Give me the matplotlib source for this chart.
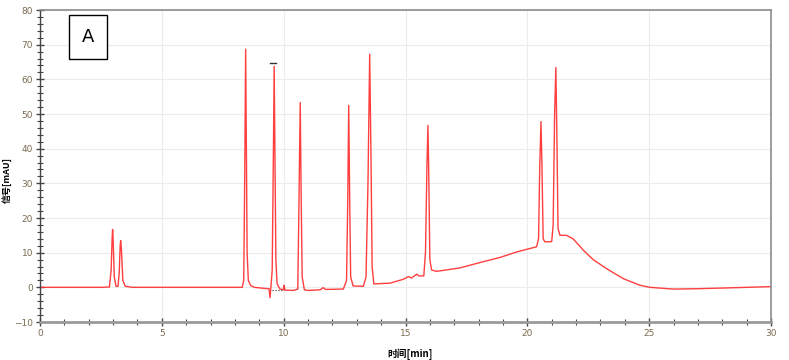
import matplotlib
matplotlib.use("Agg")
import matplotlib.pyplot as plt
from matplotlib.ticker import MultipleLocator
from matplotlib.patches import Rectangle

plt.rcParams['font.family'] = ['DejaVu Sans', 'Noto Sans CJK SC']

# chromatogram points (time [min], signal [mAU])
times = [0.0, 2.5, 2.85, 2.92, 2.96, 2.98, 3.00, 3.05, 3.12, 3.20, 3.25, 3.29, 3.31, 3.34,
         3.40, 3.50, 3.80, 8.30, 8.36, 8.40, 8.44, 8.47, 8.50, 8.55, 8.65, 8.80, 9.20, 9.40,
         9.44, 9.47, 9.53, 9.58, 9.61, 9.64, 9.68, 9.73, 9.85, 10.00, 10.02, 10.05, 10.40,
         10.58, 10.62, 10.68, 10.72, 10.76, 10.85, 11.00, 11.50, 11.62, 11.72, 12.45, 12.58,
         12.63, 12.67, 12.71, 12.75, 12.85, 13.27, 13.38, 13.46, 13.53, 13.58, 13.63, 13.70,
         14.36, 14.90, 15.13, 15.25, 15.46, 15.55, 15.75, 15.82, 15.88, 15.92, 15.95, 16.00,
         16.07, 16.27, 17.23, 18.19, 18.87, 19.56, 20.38, 20.46, 20.51, 20.56, 20.60, 20.65,
         20.72, 21.00, 21.06, 21.12, 21.17, 21.21, 21.26, 21.34, 21.60, 21.88, 22.30, 22.70,
         23.25, 23.94, 24.62, 25.03, 25.99, 26.95, 28.04, 29.96, 30.0]
signal = [0.0, 0.0, 0.1, 5.0, 14.0, 16.7, 14.0, 3.0, 0.3, 0.3, 4.0, 12.0, 13.5, 11.0,
          2.0, 0.3, 0.0, 0.0, 2.0, 30.0, 68.7, 40.0, 10.0, 2.0, 0.5, 0.0, -0.3, -0.4,
          -3.0, -0.5, 5.0, 40.0, 63.8, 40.0, 8.0, 1.0, -0.5, -0.7, 0.6, -0.8, -0.9,
          -0.5, 20.0, 53.3, 25.0, 3.0, -0.7, -0.9, -0.7, -0.1, -0.6, -0.5, 2.0,
          25.0, 52.5, 25.0, 3.0, 0.4, 0.3, 3.0, 30.0, 67.2, 40.0, 6.0, 1.0,
          1.2, 2.3, 3.1, 2.7, 3.8, 3.3, 3.3, 10.0, 35.0, 46.7, 35.0, 8.0,
          5.0, 4.6, 5.6, 7.4, 8.6, 10.2, 11.7, 14.0, 35.0, 47.8, 35.0, 14.0,
          13.1, 13.2, 18.0, 50.0, 63.4, 45.0, 17.0, 15.0, 15.0, 14.0, 10.7, 8.0,
          5.4, 2.5, 0.6, 0.0, -0.5, -0.4, -0.2, 0.2, 0.2]

# small integration marks drawn by the software
mark_top_t = [9.44, 9.67]
mark_top_v = [64.6, 64.6]
mark_base_t = [9.52, 10.0]
mark_base_v = [-0.7, -0.7]

xlabel = "时间[min]"
ylabel = "信号[mAU]"
panel = "A"

fig = plt.figure(figsize=(7.89, 3.60), dpi=100)
ax = fig.add_axes([40/789, 1-322/360, 731/789, 312/360])

ax.plot(times, signal, color='#ff2a2a', lw=1.0, alpha=0.9)
ax.plot(mark_top_t, mark_top_v, color='#333333', lw=1.0)
ax.plot(mark_base_t, mark_base_v, color='#333333', lw=0.8, ls=':')

ax.set_xlim(0, 30)
ax.set_ylim(-10, 80)
ax.xaxis.set_major_locator(MultipleLocator(5))
ax.xaxis.set_minor_locator(MultipleLocator(1))
ax.yaxis.set_major_locator(MultipleLocator(10))
ax.yaxis.set_minor_locator(MultipleLocator(2))
ax.grid(True, which='major', color='#ececec', lw=0.8)
ax.set_axisbelow(True)

ax.tick_params(which='major', direction='inout', length=6, width=1.0, color='#444444',
               labelsize=6.5, labelcolor='#7a6a4f', pad=2)
ax.tick_params(which='minor', direction='inout', length=4, width=0.8, color='#444444')

for side in ['top', 'right']:
    ax.spines[side].set_color('#8c8c8c')
    ax.spines[side].set_linewidth(1.2)
ax.spines['bottom'].set_color('#9a9a9a')
ax.spines['bottom'].set_linewidth(2.0)
ax.spines['left'].set_color('#444444')
ax.spines['left'].set_linewidth(1.0)

ax.set_xlabel(xlabel, fontsize=7, fontweight='bold', family=['Noto Sans CJK SC', 'DejaVu Sans'])
ax.set_ylabel(ylabel, fontsize=6.5, fontweight='bold', family=['Noto Sans CJK SC', 'DejaVu Sans'])
ax.xaxis.set_label_coords((410-40)/731, -(348-322)/312)
ax.yaxis.set_label_coords((12-40)/731, (322-180)/312)

rect = Rectangle((29/731, 1-(15-10)/312 - 44/312), 38/731, 44/312, transform=ax.transAxes,
                 fill=True, facecolor='white', edgecolor='black', lw=1.0, zorder=5)
ax.add_patch(rect)
ax.text((29+19)/731, 1-(15-10+22)/312, panel, transform=ax.transAxes, fontsize=13,
        ha='center', va='center', zorder=6, family='DejaVu Sans')

fig.savefig('out.png', dpi=100)
